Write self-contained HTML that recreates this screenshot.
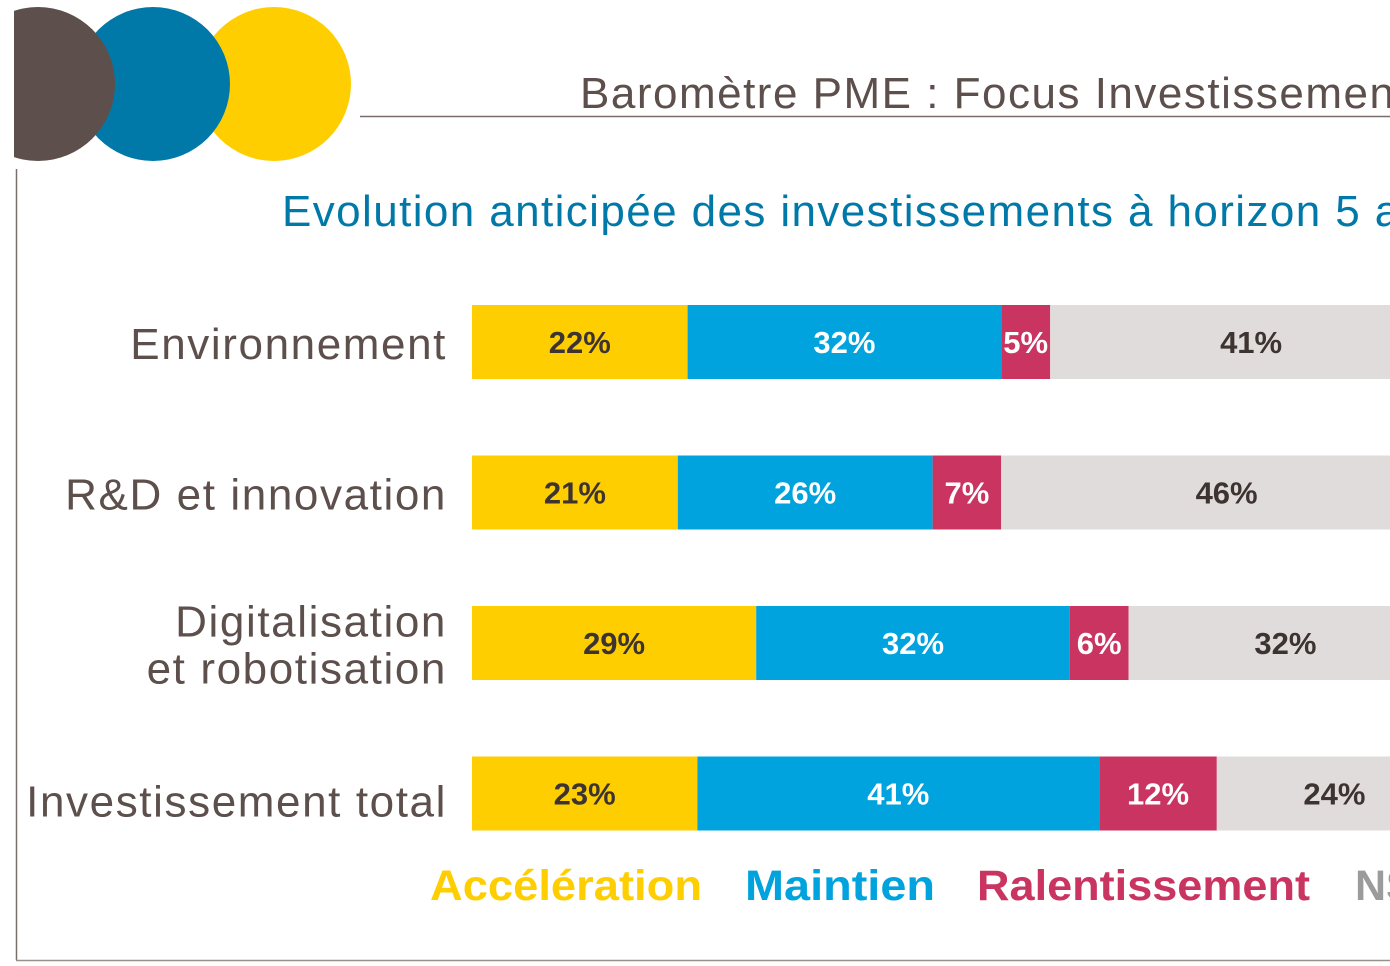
<!DOCTYPE html>
<html><head><meta charset="utf-8"><style>
html,body{margin:0;padding:0;background:#fff;}
body{width:1390px;height:966px;overflow:hidden;position:relative;font-family:"Liberation Sans",sans-serif;}
svg{position:absolute;left:0;top:0;}
</style></head><body>
<svg id="chart" width="1390" height="966">
  <defs><clipPath id="lc"><rect x="14" y="0" width="400" height="170"/></clipPath></defs>
  <g clip-path="url(#lc)">
    <circle cx="274" cy="84" r="77" fill="#ffce00"/>
    <circle cx="153" cy="84" r="77" fill="#0079a8"/>
    <circle cx="38" cy="84" r="77" fill="#5c4f4c"/>
  </g>
  <line x1="360" y1="116.5" x2="1390" y2="116.5" stroke="#7a6e6b" stroke-width="1.5"/>
  <line x1="16.5" y1="169" x2="16.5" y2="960" stroke="#7a6e6b" stroke-width="1.5"/>
  <line x1="16" y1="960.5" x2="1390" y2="960.5" stroke="#9a918e" stroke-width="1.5"/>
  <text x="580" y="108" font-size="44" letter-spacing="1.5" fill="#5c4f4c">Baromètre PME : Focus Investissement</text>
  <text x="282" y="226" font-size="44" letter-spacing="1.4" fill="#0079a8">Evolution anticipée des investissements à horizon 5 ans</text>
  <g id="bars"></g>
  <g id="legend">
    <text x="430" y="900" font-size="43" font-weight="bold" textLength="272" lengthAdjust="spacingAndGlyphs" fill="#ffce00">Accélération</text>
    <text x="745" y="900" font-size="43" font-weight="bold" textLength="190" lengthAdjust="spacingAndGlyphs" fill="#00a3dd">Maintien</text>
    <text x="977" y="900" font-size="43" font-weight="bold" textLength="333" lengthAdjust="spacingAndGlyphs" fill="#c93461">Ralentissement</text>
    <text x="1355" y="900" font-size="43" font-weight="bold" fill="#9b9b9b">NSP</text>
  </g>
</svg>
<script>
const categories = ["Environnement", "R&D et innovation", "Digitalisation|et robotisation", "Investissement total"];
const acceleration = [22, 21, 29, 23];
const maintien = [32, 26, 32, 41];
const ralentissement = [5, 7, 6, 12];
const nsp = [41, 46, 32, 24];
const series = [acceleration, maintien, ralentissement, nsp];
const colors = ["#ffce00", "#00a3dd", "#c93461", "#e0dcdb"];
const textColors = ["#3d3331", "#fff", "#fff", "#3d3331"];
const NS = "http://www.w3.org/2000/svg";
const x0 = 472, pxPer = 9.8;
const xScale = v => x0 + v * pxPer;
const yTop = i => 305 + i * 150.5;
const barH = 74;
const g = document.getElementById("bars");
categories.forEach((cat, i) => {
  let acc = 0;
  const y = yTop(i);
  const lines = cat.split("|");
  lines.forEach((ln, k) => {
    const t = document.createElementNS(NS, "text");
    t.setAttribute("x", 447);
    const cy = y + barH / 2 + 17 + (k - (lines.length - 1) / 2) * 47 + (i === 3 ? 6 : 0);
    t.setAttribute("y", cy);
    t.setAttribute("text-anchor", "end");
    t.setAttribute("font-size", "44");
    t.setAttribute("letter-spacing", "1.6");
    t.setAttribute("fill", "#5c4f4c");
    t.textContent = ln;
    
    
    g.appendChild(t);
  });
  series.forEach((s, j) => {
    const v = s[i];
    const r = document.createElementNS(NS, "rect");
    r.setAttribute("x", xScale(acc));
    r.setAttribute("y", y);
    r.setAttribute("width", xScale(acc + v) - xScale(acc));
    r.setAttribute("height", barH);
    r.setAttribute("fill", colors[j]);
    
    
    g.appendChild(r);
    const t = document.createElementNS(NS, "text");
    t.setAttribute("x", (xScale(acc) + xScale(acc + v)) / 2);
    t.setAttribute("y", y + barH / 2 + 11);
    t.setAttribute("text-anchor", "middle");
    t.setAttribute("font-size", "31");
    t.setAttribute("font-weight", "bold");
    t.setAttribute("fill", textColors[j]);
    t.textContent = v + "%";
    
    
    g.appendChild(t);
    acc += v;
  });
});
</script>
</body></html>
